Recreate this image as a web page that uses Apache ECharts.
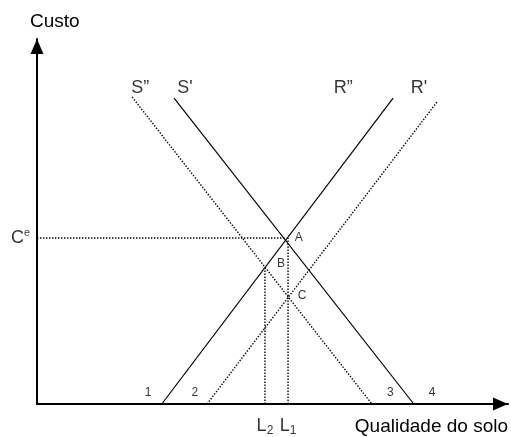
<!DOCTYPE html>
<html>
<head>
    <meta charset="UTF-8">
    <title>Custo x Qualidade do solo</title>
    <script src="https://cdn.jsdelivr.net/npm/echarts@6/dist/echarts.min.js"></script>
    <style>
        html, body { margin: 0; padding: 0; background: #fff; }
    </style>
</head>
<body>
    <div id="chart" style="width:511px; height:437px;"></div>
    <script>
        // line end points [x, y] in chart units (x 0-100, y 0-100)
        var sDouble = [[20.2, 84.1], [71.1, 0]];   // S''  dotted
        var sSingle = [[29.1, 83.8], [80.0, 0]];   // S'   solid
        var rDouble = [[26.5, 0], [75.6, 83.8]];   // R''  solid
        var rSingle = [[36.1, 0], [84.9, 82.7]];   // R'   dotted

        var ce = 45.5;      // equilibrium cost (A)
        var xA = 52.7;
        var l1 = 53.3;
        var l2 = 48.4;
        var yB = 37.3;

        var curveNames = ["S\u201d", "S'", "R\u201d", "R'"];
        var curveLabelX = [21.9, 31.4, 65.0, 81.1];
        var curveLabelY = 86.6;

        var pointNames = ['A', 'B', 'C'];
        var pointLabelPos = [[55.6, 45.5], [51.8, 38.4], [56.3, 29.6]];

        var axisNums = ['1', '2', '3', '4'];
        var axisNumX = [23.6, 33.5, 75.0, 83.9];
        var axisNumY = 3.0;

        var chart = echarts.init(document.getElementById('chart'), null, {renderer: 'canvas'});

        var font = 'Liberation Sans, Arial, sans-serif';
        var solid = {color: '#000', width: 1.2};
        var dotted = {color: '#000', width: 1.4, type: [1.4, 1.6]};

        function seg(data, style) {
            return {
                type: 'line', data: data, showSymbol: false, symbol: 'none',
                lineStyle: style, silent: true, z: 3
            };
        }

        function textPoints(items, labelOpt) {
            return {
                type: 'scatter', symbolSize: 0, silent: true, z: 5,
                data: items,
                label: Object.assign({
                    show: true, position: 'inside', color: '#000',
                    fontFamily: font, formatter: '{b}'
                }, labelOpt)
            };
        }

        var curveItems = curveNames.map(function (n, i) {
            return {name: n, value: [curveLabelX[i], curveLabelY]};
        });
        var pointItems = pointNames.map(function (n, i) {
            return {name: n, value: pointLabelPos[i]};
        });
        var numItems = axisNums.map(function (n, i) {
            return {name: n, value: [axisNumX[i], axisNumY]};
        });

        var axisCommon = {
            type: 'value', min: 0, max: 100,
            axisLine: {
                show: true, onZero: false,
                symbol: ['none', 'triangle'],
                symbolSize: [13, 15],
                symbolOffset: [0, -7.5],
                lineStyle: {color: '#000', width: 2}
            },
            axisTick: {show: false},
            axisLabel: {show: false},
            splitLine: {show: false}
        };

        var option = {
            animation: false,
            backgroundColor: '#fff',
            title: [
                {text: 'Custo', left: 30, top: 12, padding: 0,
                    textStyle: {fontFamily: font, fontSize: 19, fontWeight: 'normal', color: '#000'}},
                {text: 'Qualidade do solo', right: 3, top: 417, padding: 0,
                    textStyle: {fontFamily: font, fontSize: 19, fontWeight: 'normal', color: '#000'}}
            ],
            grid: {left: 37, right: 3, top: 39, bottom: 33, containLabel: false},
            xAxis: axisCommon,
            yAxis: axisCommon,
            series: [
                seg(sDouble, dotted),
                seg(sSingle, solid),
                seg(rDouble, solid),
                seg(rSingle, dotted),
                seg([[0, ce], [xA, ce]], dotted),
                seg([[l1, 0], [l1, ce]], dotted),
                seg([[l2, 0], [l2, yB]], dotted),
                textPoints(curveItems, {fontSize: 18}),
                textPoints(pointItems, {fontSize: 12}),
                textPoints(numItems, {fontSize: 12}),
                textPoints([{name: 'C', value: [0, ce]}], {
                    position: 'left', distance: 7, fontSize: 18,
                    formatter: 'C{e|e}',
                    rich: {e: {fontSize: 11, verticalAlign: 'top', padding: [0, 0, 9, 0], fontFamily: font}}
                }),
                textPoints([{name: '2', value: [l2, 0]}, {name: '1', value: [l1, 0]}], {
                    position: 'bottom', distance: 12, fontSize: 18,
                    formatter: 'L{s|{b}}',
                    rich: {s: {fontSize: 12, padding: [9, 0, 0, 0], fontFamily: font}}
                })
            ]
        };

        chart.setOption(option);
    </script>
</body>
</html>
